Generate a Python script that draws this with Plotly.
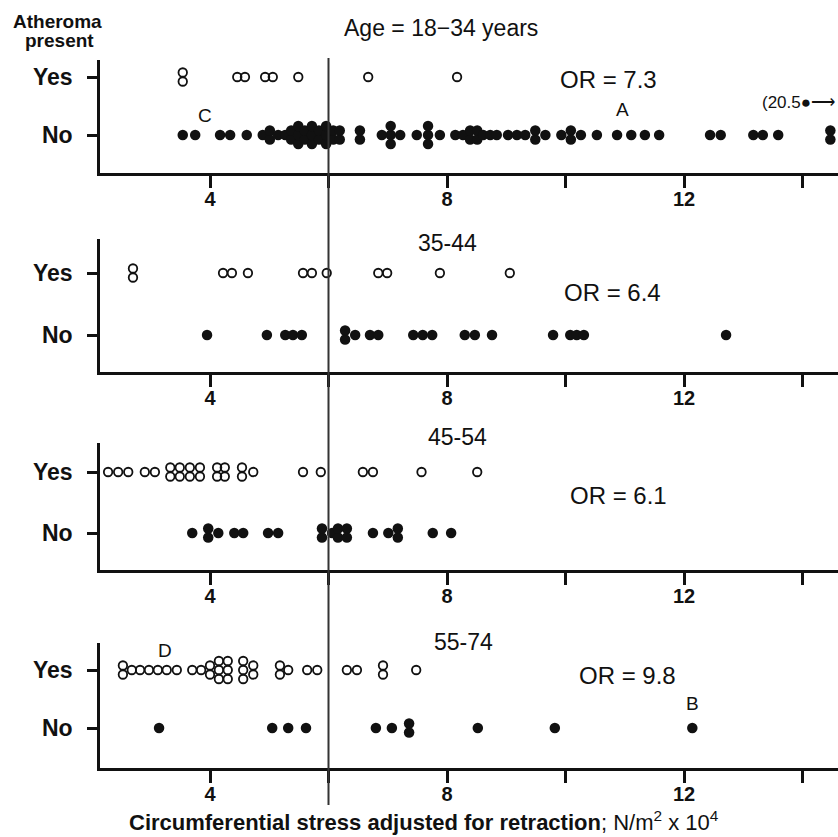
import plotly.graph_objects as go
from collections import Counter

# ---------------- data (x = circumferential stress, N/m^2 x 10^4) ----------------
panel_titles = ["Age = 18\u221234 years", "35-44", "45-54", "55-74"]
odds_ratios = ["OR = 7.3", "OR = 6.4", "OR = 6.1", "OR = 9.8"]
y_categories = ["No", "Yes"]
x_tick_values = [4, 8, 12]
x_tick_labels = ["4", "8", "12"]
x_minor_ticks = [6, 10, 14]
cutoff = 6

yes_18_34 = [3.54, 3.54, 4.46, 4.59, 4.93, 5.06, 5.49, 6.67, 8.17]
no_18_34 = [3.54, 3.75, 4.17, 4.34, 4.62, 4.89, 5.01, 5.01, 5.15, 5.27,
            5.37, 5.37, 5.49, 5.49, 5.49, 5.60, 5.60, 5.72, 5.72, 5.72,
            5.84, 5.84, 5.96, 5.96, 5.96, 6.08, 6.08, 6.19, 6.19,
            6.53, 6.53, 6.90, 7.05, 7.05, 7.05, 7.21,
            7.49, 7.68, 7.68, 7.68, 7.88,
            8.14, 8.27, 8.39, 8.39, 8.51, 8.51, 8.61, 8.73, 8.84,
            9.03, 9.18, 9.32, 9.49, 9.49, 9.66,
            9.93, 10.09, 10.09, 10.26, 10.53, 10.87, 11.11, 11.34, 11.58,
            12.44, 12.62, 13.17, 13.33, 13.59, 14.47, 14.47]

yes_35_44 = [2.70, 2.70, 4.22, 4.37, 4.64, 5.57, 5.72, 5.97, 6.84, 6.99, 7.88, 9.06]
no_35_44 = [3.95, 4.96, 5.27, 5.40, 5.55, 6.28, 6.28, 6.45, 6.70, 6.84,
            7.43, 7.59, 7.75, 8.30, 8.47, 8.76, 9.79, 10.08, 10.19, 10.31, 12.71]

yes_45_54 = [2.28, 2.45, 2.62, 2.90, 3.07, 3.33, 3.33, 3.49, 3.49, 3.66, 3.66,
             3.83, 3.83, 4.12, 4.12, 4.25, 4.25, 4.54, 4.54, 4.73,
             5.57, 5.87, 6.58, 6.75, 7.57, 8.51]
no_45_54 = [3.70, 3.97, 3.97, 4.14, 4.41, 4.56, 4.98, 5.15, 5.89, 5.89, 6.06,
            6.16, 6.16, 6.31, 6.31, 6.75, 7.01, 7.17, 7.17, 7.76, 8.07]

yes_55_74 = [2.53, 2.53, 2.68, 2.82, 2.97, 3.12, 3.27, 3.44, 3.70, 3.85,
             4.00, 4.00, 4.15, 4.15, 4.15, 4.30, 4.30, 4.30, 4.56, 4.56, 4.56,
             4.73, 4.73, 5.18, 5.18, 5.32, 5.64, 5.81, 6.31, 6.48, 6.92, 6.92, 7.48]
no_55_74 = [3.14, 5.05, 5.32, 5.62, 6.80, 7.07, 7.36, 7.36, 8.52, 9.82, 12.14]

yes_sets = [yes_18_34, yes_35_44, yes_45_54, yes_55_74]
no_sets = [no_18_34, no_35_44, no_45_54, no_55_74]

# ---------------- layout geometry (pixels of an 838 x 837 page) ----------------
W, H = 838, 837
# (top px, axis px, Yes px, No px) for each panel
panel_px = [(60, 173, 77, 135), (239, 372, 273, 335), (443, 570, 472, 533), (643, 768, 670, 728)]
x_left_px, px_per_unit, x0_px = 100, 59.25, -27
x_range = [(x_left_px - x0_px) / px_per_unit, (W - x0_px) / px_per_unit]
STACK_PX = 9
FONT = "Liberation Sans, Arial, sans-serif"


def stacked(values, step):
    cnt = Counter(values)
    xs, ys = [], []
    for v, n in cnt.items():
        for i in range(n):
            xs.append(v)
            ys.append((i - (n - 1) / 2) * step)
    return xs, ys


fig = go.Figure()
layout = dict(width=W, height=H, margin=dict(l=0, r=0, t=0, b=0, autoexpand=False),
              paper_bgcolor="white", plot_bgcolor="white", showlegend=False)

annotations = []
for k in range(4):
    top, axis, ypx, npx = panel_px[k]
    sp = npx - ypx
    yr = [(npx - axis) / sp, (npx - top) / sp]
    step = STACK_PX / sp
    xname = "x" if k == 0 else f"x{k+1}"
    yname = "y" if k == 0 else f"y{k+1}"
    xs, ys = stacked(no_sets[k], step)
    fig.add_trace(go.Scatter(x=xs, y=ys, mode="markers", xaxis=xname, yaxis=yname,
                             cliponaxis=False,
                             marker=dict(size=10.5, color="#111", line=dict(width=0))))
    xs, ys = stacked(yes_sets[k], step)
    fig.add_trace(go.Scatter(x=xs, y=[1 + v for v in ys], mode="markers", xaxis=xname, yaxis=yname,
                             cliponaxis=False,
                             marker=dict(symbol="circle-open", size=8.5, color="#111",
                                         line=dict(width=1.8, color="#111"))))
    xa = "xaxis" if k == 0 else f"xaxis{k+1}"
    ya = "yaxis" if k == 0 else f"yaxis{k+1}"
    layout[xa] = dict(domain=[x_left_px / W, 1], range=x_range, anchor=yname, automargin=False,
                      showline=True, linewidth=2.5, linecolor="#111", showgrid=False,
                      zeroline=False, ticks="outside", ticklen=12, tickwidth=2.5,
                      tickcolor="#111", tickvals=x_tick_values, ticktext=x_tick_labels,
                      ticklabelstandoff=-6,
                      minor=dict(tickvals=x_minor_ticks, ticks="outside", ticklen=12,
                                 tickwidth=2.5, tickcolor="#111", showgrid=False),
                      tickfont=dict(family=FONT, size=20, color="#111", weight="bold"))
    layout[ya] = dict(domain=[1 - axis / H, 1 - top / H], range=yr, anchor=xname, automargin=False,
                      showline=True, linewidth=2.5, linecolor="#111", showgrid=False,
                      zeroline=False, ticks="outside", ticklen=10, tickwidth=2.5,
                      tickcolor="#111", tickvals=[0, 1], ticktext=y_categories,
                      ticklabelstandoff=10,
                      tickfont=dict(family=FONT, size=23, color="#111", weight="bold"))


def ann(text, xp, yp, size, bold=False, xanchor="center"):
    annotations.append(dict(text=text, x=xp / W, y=1 - yp / H, xref="paper", yref="paper",
                            xanchor=xanchor, yanchor="middle", showarrow=False,
                            font=dict(family=FONT, size=size, color="#111",
                                      weight="bold" if bold else "normal")))


title_px = [(441, 28), (447, 243), (457, 437), (463, 642)]
or_px = [(608, 80), (612, 293), (618, 495), (627, 675)]
for k in range(4):
    ann(panel_titles[k], *title_px[k], 23)
    ann(odds_ratios[k], *or_px[k], 24)

ann("Atheroma", 58, 21, 19, True)
ann("present", 59, 40, 19, True)
ann("C", 205, 115, 19)
ann("A", 622, 110, 19)
ann("B", 692, 703, 19)
ann("D", 165, 650, 19)
ann("(20.5\u25cf\u27f6", 837, 103, 17, xanchor="right")
ann("<b>Circumferential stress adjusted for retraction</b>; N/m<sup>2</sup> x 10<sup>4</sup>",
    424, 821, 22)

layout["annotations"] = annotations
layout["shapes"] = [dict(type="line", xref="x", yref="paper", x0=cutoff, x1=cutoff,
                         y0=1 - 805 / H, y1=1 - 58 / H, line=dict(color="#333", width=2))]
fig.update_layout(**layout)
fig.write_html("out.html", config={"displayModeBar": False},
               post_script="document.body.style.margin='0px';document.body.style.overflow='hidden';")
